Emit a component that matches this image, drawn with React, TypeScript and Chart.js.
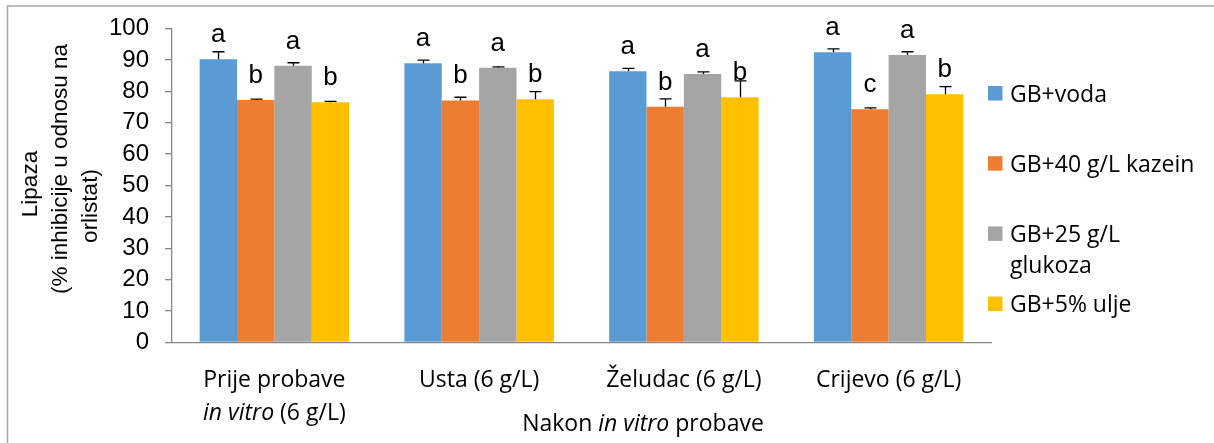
import React, { useEffect, useRef } from "react";
import { Chart, registerables } from "chart.js";

Chart.register(...registerables);

// ---------- data ----------
const categoryLines: string[][] = [
  ["Prije probave", "in vitro (6 g/L)"],
  ["Usta (6 g/L)"],
  ["Želudac (6 g/L)"],
  ["Crijevo (6 g/L)"],
];
const categories = categoryLines.map((l) => l.join(" "));
const seriesNames = ["GB+voda", "GB+40 g/L kazein", "GB+25 g/L glukoza", "GB+5% ulje"];
const legendLines: string[][] = [["GB+voda"], ["GB+40 g/L kazein"], ["GB+25 g/L", "glukoza"], ["GB+5% ulje"]];
const seriesColors = ["#5B9BD5", "#ED7D31", "#A5A5A5", "#FFC000"];

const voda = [90.2, 88.9, 86.4, 92.4];
const kazein = [77.2, 77.1, 75.1, 74.3];
const glukoza = [88.1, 87.5, 85.5, 91.6];
const ulje = [76.5, 77.5, 78.1, 79.1];

const vodaErr = [2.4, 1.0, 0.9, 1.1];
const kazeinErr = [0.3, 1.0, 2.5, 0.4];
const glukozaErr = [1.0, 0.3, 0.7, 1.0];
const uljeErr = [0.3, 2.4, 5.2, 2.4];

const vodaSig = ["a", "a", "a", "a"];
const kazeinSig = ["b", "b", "b", "c"];
const glukozaSig = ["a", "a", "a", "a"];
const uljeSig = ["b", "b", "b", "b"];

const yMin = 0;
const yMax = 100;
const yStep = 10;

const yTitleLines = ["Lipaza", "(% inhibicije u odnosu na", "orlistat)"];
const xTitle = "Nakon in vitro probave";
const italicPhrase = "in vitro";

const seriesValues = [voda, kazein, glukoza, ulje];
const seriesErrors = [vodaErr, kazeinErr, glukozaErr, uljeErr];
const seriesSig = [vodaSig, kazeinSig, glukozaSig, uljeSig];

// ---------- styles ----------
const W = 1214;
const H = 443;
const SANS = "'Liberation Sans', Arial, sans-serif";
const BODY = "'Open Sans', 'Noto Sans', sans-serif";
const AXIS_COLOR = "#868686";

function splitItalic(text: string) {
  const parts: { t: string; it: boolean }[] = [];
  let rest = text;
  while (rest.length) {
    const i = rest.indexOf(italicPhrase);
    if (i < 0) {
      parts.push({ t: rest, it: false });
      break;
    }
    if (i > 0) parts.push({ t: rest.slice(0, i), it: false });
    parts.push({ t: italicPhrase, it: true });
    rest = rest.slice(i + italicPhrase.length);
  }
  return parts;
}

function drawRich(ctx: CanvasRenderingContext2D, text: string, cx: number, baseline: number, size: number) {
  const parts = splitItalic(text);
  const fontFor = (it: boolean) => `${it ? "italic " : ""}${size}px ${BODY}`;
  let total = 0;
  const widths = parts.map((p) => {
    ctx.font = fontFor(p.it);
    const w = ctx.measureText(p.t).width;
    total += w;
    return w;
  });
  let x = cx - total / 2;
  ctx.textAlign = "left";
  ctx.textBaseline = "alphabetic";
  parts.forEach((p, i) => {
    ctx.font = fontFor(p.it);
    ctx.fillText(p.t, x, baseline);
    x += widths[i];
  });
}

const decorPlugin = {
  id: "decor",
  beforeDraw(chart: any) {
    const ctx: CanvasRenderingContext2D = chart.ctx;
    ctx.save();
    ctx.fillStyle = "#ffffff";
    ctx.fillRect(0, 0, W, H);
    ctx.strokeStyle = "#a6a6a6";
    ctx.lineWidth = 1.5;
    ctx.strokeRect(7.5, 6, W + 50, H + 50);
    ctx.restore();
  },
  afterDatasetsDraw(chart: any) {
    const ctx: CanvasRenderingContext2D = chart.ctx;
    const yScale = chart.scales.y;
    ctx.save();
    // error bars
    seriesValues.forEach((vals, di) => {
      const meta = chart.getDatasetMeta(di);
      meta.data.forEach((el: any, j: number) => {
        const yTop = yScale.getPixelForValue(vals[j] + seriesErrors[di][j]);
        const x = Math.round(el.x) + 0.5;
        ctx.strokeStyle = "#000000";
        ctx.lineWidth = 1.3;
        ctx.beginPath();
        ctx.moveTo(x, el.y);
        ctx.lineTo(x, yTop);
        ctx.moveTo(x - 6, yTop);
        ctx.lineTo(x + 6, yTop);
        ctx.stroke();
      });
    });
    // significance letters
    ctx.fillStyle = "#000000";
    ctx.font = `26px ${SANS}`;
    ctx.textAlign = "center";
    ctx.textBaseline = "alphabetic";
    seriesSig.forEach((sig, di) => {
      const meta = chart.getDatasetMeta(di);
      meta.data.forEach((el: any, j: number) => {
        ctx.fillText(sig[j], el.x, el.y - 17);
      });
    });
    ctx.restore();
  },
  afterDraw(chart: any) {
    const ctx: CanvasRenderingContext2D = chart.ctx;
    const xScale = chart.scales.x;
    ctx.save();
    ctx.fillStyle = "#000000";
    // category labels
    categoryLines.forEach((lines, i) => {
      const cx = xScale.getPixelForValue(i);
      lines.forEach((line, k) => {
        drawRich(ctx, line, cx, 387 + k * 33, 23);
      });
    });
    // x title
    drawRich(ctx, xTitle, 643, 431, 23);
    // y title (rotated)
    const yCenters = [184, 169, 206];
    const xCenters = [31, 61, 91];
    ctx.font = `22.5px ${SANS}`;
    ctx.textAlign = "center";
    ctx.textBaseline = "middle";
    yTitleLines.forEach((line, k) => {
      ctx.save();
      ctx.translate(xCenters[k], yCenters[k]);
      ctx.rotate(-Math.PI / 2);
      ctx.fillText(line, 0, 0);
      ctx.restore();
    });
    // legend
    const legX = 988;
    const sq = 14.5;
    const textX = 1010;
    const firstBase = 101.7;
    const itemGap = 70.2;
    const lineGap = 30.6;
    ctx.textAlign = "left";
    ctx.textBaseline = "alphabetic";
    ctx.font = `23px ${BODY}`;
    legendLines.forEach((lines, i) => {
      const base = firstBase + i * itemGap;
      ctx.fillStyle = seriesColors[i];
      ctx.fillRect(legX, base - 15.7, sq, sq);
      ctx.fillStyle = "#000000";
      lines.forEach((l, k) => ctx.fillText(l, textX, base + k * lineGap));
    });
    ctx.restore();
  },
};

export default function App() {
  const canvasRef = useRef<HTMLCanvasElement | null>(null);

  useEffect(() => {
    if (!canvasRef.current) return;
    const chart = new Chart(canvasRef.current, {
      type: "bar",
      data: {
        labels: categories,
        datasets: seriesValues.map((vals, i) => ({
          label: seriesNames[i],
          data: vals,
          backgroundColor: seriesColors[i],
          borderWidth: 0,
          categoryPercentage: 0.73,
          barPercentage: 1.0,
        })),
      },
      options: {
        animation: false,
        responsive: true,
        maintainAspectRatio: false,
        devicePixelRatio: 1,
        layout: { padding: { left: 0, right: 223, top: 28.5, bottom: 0 } },
        plugins: {
          legend: { display: false },
          tooltip: { enabled: false },
          title: { display: false },
        },
        scales: {
          x: {
            type: "category",
            offset: true,
            grid: { display: false },
            border: { display: true, color: AXIS_COLOR, width: 1.3 },
            ticks: { display: false },
            afterFit: (scale: any) => {
              scale.height = H - 342.5;
            },
          },
          y: {
            min: yMin,
            max: yMax,
            ticks: {
              stepSize: yStep,
              autoSkip: false,
              color: "#000000",
              font: { family: SANS, size: 24, lineHeight: 1 },
              padding: 16,
            },
            grid: {
              display: true,
              drawOnChartArea: false,
              drawTicks: true,
              tickLength: 7,
              color: AXIS_COLOR,
              lineWidth: 1.3,
            },
            border: { display: true, color: AXIS_COLOR, width: 1.3 },
            afterFit: (scale: any) => {
              scale.width = 172;
            },
          },
        },
      },
      plugins: [decorPlugin],
    });
    return () => chart.destroy();
  }, []);

  return (
    <div style={{ position: "absolute", left: 0, top: 0, width: W, height: H, background: "#fff" }}>
      <canvas ref={canvasRef} />
    </div>
  );
}
